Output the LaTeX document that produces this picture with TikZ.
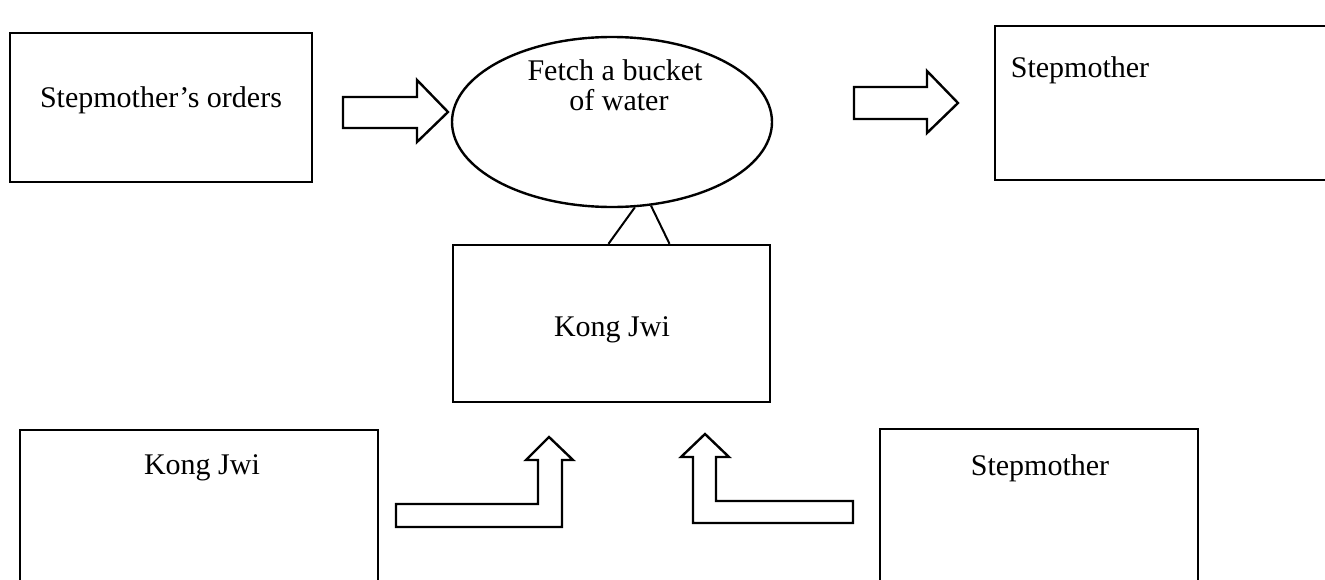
\documentclass[tikz,border=0pt]{standalone}
\usepackage{fontspec}
\setmainfont{Liberation Serif}
\usetikzlibrary{shapes.geometric}

\tikzset{
  box/.style={draw, line width=2.4pt, inner sep=0pt},
  blockarrow/.style={draw, line width=2.4pt, fill=white, line join=miter},
  txt/.style={inner sep=0pt, align=center, font=\fontsize{30}{30}\selectfont}
}

\begin{document}
\begin{tikzpicture}[x=1pt, y=-1pt]

    \useasboundingbox (0,0) rectangle (1325,579);

    % boxes and the ellipse
    \node[box, minimum width=302pt, minimum height=149pt] (orders) at (161,107.5) {};
    \node[box, ellipse, minimum width=320pt, minimum height=170pt] (fetch) at (612,122) {};
    \node[box, minimum width=350pt, minimum height=154pt] (mother) at (1170,103) {};
    \node[box, minimum width=317pt, minimum height=157pt] (kong) at (611.5,323.5) {};
    \node[box, minimum width=358pt, minimum height=170pt] (konglow) at (199,515) {};
    \node[box, minimum width=318pt, minimum height=171pt] (motherlow) at (1039,514.5) {};

    % texts
    \node[txt] (orders-t) at (161,100) {Stepmother’s orders};
    \node[txt] (fetch-t) at (615,85) {Fetch a bucket\\ \hspace*{8pt}of water};
    \node[txt] (mother-t) at (1080,70) {Stepmother};
    \node[txt] (kong-t) at (612,330) {Kong Jwi};
    \node[txt] (konglow-t) at (202,468) {Kong Jwi};
    \node[txt] (motherlow-t) at (1040,468) {Stepmother};

    % the two legs under the ellipse
    \draw[line width=2pt] (fetch.-75) -- ([xshift=-3pt]kong.north);
    \draw[line width=2pt] (fetch.-65) -- ([xshift=58pt]kong.north);

    % block arrows
    \draw[blockarrow] (343,97) -- (417,97) -- (417,80) -- (448,112) -- (417,142) -- (417,128) -- (343,128) -- cycle;
    \draw[blockarrow] (854,87) -- (927,87) -- (927,71) -- (958,103) -- (927,133) -- (927,119) -- (854,119) -- cycle;

    \draw[blockarrow] (396,504) -- (538,504) -- (538,460) -- (526,460) -- (549,437) -- (573,460) -- (562,460) -- (562,527) -- (396,527) -- cycle;
    \draw[blockarrow] (853,501) -- (716,501) -- (716,457) -- (729,457) -- (705,434) -- (681,457) -- (693,457) -- (693,523) -- (853,523) -- cycle;

\end{tikzpicture}
\end{document}
